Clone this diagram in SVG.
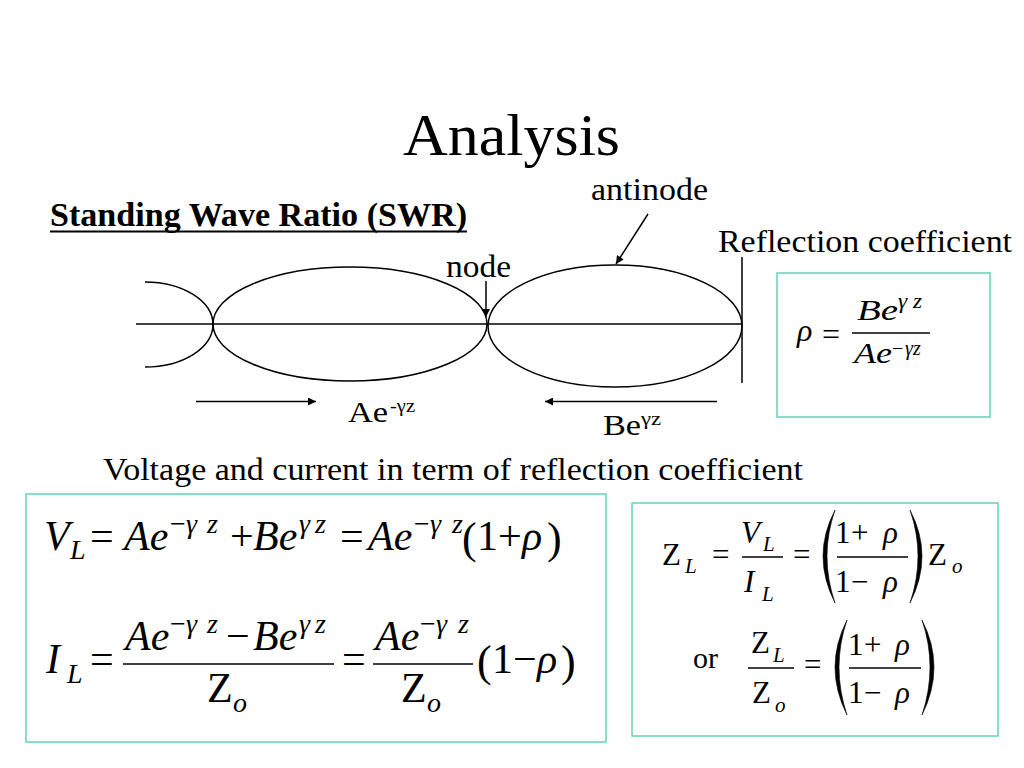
<svg xmlns="http://www.w3.org/2000/svg" width="1024" height="768" viewBox="0 0 1024 768">
<style>
text{font-family:"Liberation Serif","Times New Roman",serif;fill:#000}
.i{font-style:italic}
.ln{stroke:#000;stroke-width:1.5;fill:none}
.fr{stroke:#000;stroke-width:1.6}
.box{fill:#fff;stroke:#66d2b8;stroke-width:1.5}
.par{fill:#000;stroke:#000;stroke-width:0.6}
.b2{font-size:42px}
.s2{font-size:28px}
.b3{font-size:31px}
.s3{font-size:21px}
</style>
<defs>
<marker id="ah" viewBox="0 0 10 10" refX="10" refY="5" markerWidth="10" markerHeight="8" markerUnits="userSpaceOnUse" orient="auto">
<path d="M0,0 L10,5 L0,10 z" fill="#000"/>
</marker>
</defs>
<rect width="1024" height="768" fill="#fff"/>

<g id="title">
<text x="403" y="155" font-size="60" textLength="217" lengthAdjust="spacingAndGlyphs">Analysis</text>
</g>
<g id="heading">
<text x="50" y="226" font-size="33" font-weight="bold" textLength="417" lengthAdjust="spacingAndGlyphs">Standing Wave Ratio (SWR)</text>
<line x1="50" y1="231.5" x2="467" y2="231.5" stroke="#000" stroke-width="2"/>
</g>

<g id="wave">
<line class="ln" x1="136" y1="324" x2="742" y2="324"/>
<line class="ln" x1="742" y1="257" x2="742" y2="383"/>
<path class="ln" d="M145,282 A68,42.5 0 0 1 145,367"/>
<ellipse class="ln" cx="350" cy="324" rx="137" ry="57"/>
<ellipse class="ln" cx="615" cy="326" rx="127" ry="61"/>
</g>

<g id="labels">
<text x="591" y="200" font-size="32" textLength="117" lengthAdjust="spacingAndGlyphs">antinode</text>
<text x="446" y="277" font-size="32" textLength="65" lengthAdjust="spacingAndGlyphs">node</text>
<text x="718" y="252" font-size="31" textLength="294" lengthAdjust="spacingAndGlyphs">Reflection coefficient</text>
<text x="348" y="422" font-size="30" textLength="40" lengthAdjust="spacingAndGlyphs">Ae</text>
<text x="390" y="412" font-size="19" textLength="25" lengthAdjust="spacingAndGlyphs">-γz</text>
<text x="603" y="435" font-size="30" textLength="38" lengthAdjust="spacingAndGlyphs">Be</text>
<text x="641" y="425" font-size="19" textLength="20" lengthAdjust="spacingAndGlyphs">γz</text>
<text x="103" y="480" font-size="31" textLength="700" lengthAdjust="spacingAndGlyphs">Voltage and current in term of reflection coefficient</text>
</g>

<g id="connectors">
<line class="ln" x1="648" y1="214" x2="616" y2="264" marker-end="url(#ah)"/>
<line class="ln" x1="486" y1="281" x2="486" y2="317" marker-end="url(#ah)"/>
<line class="ln" x1="196" y1="401.5" x2="316" y2="401.5" marker-end="url(#ah)"/>
<line class="ln" x1="717" y1="401.5" x2="545" y2="401.5" marker-end="url(#ah)"/>
</g>

<g id="rho-box">
<rect class="box" x="777" y="273" width="213" height="144"/>
<text class="i" x="797" y="341" font-size="32">ρ</text>
<text x="822" y="345" font-size="32">=</text>
<line class="fr" x1="852" y1="333" x2="930" y2="333"/>
<text class="i" x="857" y="320" font-size="30" textLength="41" lengthAdjust="spacingAndGlyphs">Be</text>
<text class="i" x="898" y="308" font-size="20" textLength="24" lengthAdjust="spacingAndGlyphs">γ z</text>
<text class="i" x="854" y="363" font-size="30" textLength="38" lengthAdjust="spacingAndGlyphs">Ae</text>
<text x="892" y="355" font-size="20"><tspan>−</tspan><tspan class="i" x="905">γz</tspan></text>
</g>

<g id="vi-box">
<rect class="box" x="26" y="494" width="580" height="248"/>
<text class="b2 i" x="44" y="550">V</text>
<text class="s2 i" x="70" y="559">L</text>
<text class="b2" x="90" y="550">=</text>
<text class="b2 i" x="124" y="550">Ae</text>
<text class="s2" x="170" y="533">−</text><text class="s2 i" x="186" y="533">γ</text><text class="s2 i" x="207" y="533">z</text>
<text class="b2" x="230" y="550">+</text>
<text class="b2 i" x="253" y="550">Be</text>
<text class="s2 i" x="299" y="533">γ</text><text class="s2 i" x="315" y="533">z</text>
<text class="b2" x="340" y="550">=</text>
<text class="b2 i" x="368" y="550">Ae</text>
<text class="s2" x="414" y="533">−</text><text class="s2 i" x="430" y="533">γ</text><text class="s2 i" x="452" y="533">z</text>
<text x="462" y="553" font-size="44">(</text>
<text class="b2" x="477" y="550">1</text>
<text class="b2" x="498" y="550">+</text>
<text class="b2 i" x="522" y="550">ρ</text>
<text x="547" y="553" font-size="44">)</text>

<text class="b2 i" x="46" y="673">I</text>
<text class="s2 i" x="67" y="683">L</text>
<text class="b2" x="90" y="673">=</text>
<line class="fr" x1="123" y1="664" x2="334" y2="664"/>
<text class="b2 i" x="125" y="650">Ae</text>
<text class="s2" x="170" y="633">−</text><text class="s2 i" x="186" y="633">γ</text><text class="s2 i" x="207" y="633">z</text>
<text class="b2" x="226" y="650">−</text>
<text class="b2 i" x="253" y="650">Be</text>
<text class="s2 i" x="299" y="633">γ</text><text class="s2 i" x="315" y="633">z</text>
<text class="b2" x="207" y="702">Z</text>
<text class="s2 i" x="233" y="712">o</text>
<text class="b2" x="342" y="673">=</text>
<line class="fr" x1="373" y1="664" x2="473" y2="664"/>
<text class="b2 i" x="375" y="650">Ae</text>
<text class="s2" x="420" y="633">−</text><text class="s2 i" x="436" y="633">γ</text><text class="s2 i" x="458" y="633">z</text>
<text class="b2" x="401" y="702">Z</text>
<text class="s2 i" x="427" y="712">o</text>
<text x="477" y="676" font-size="44">(</text>
<text class="b2" x="492" y="673">1</text>
<text class="b2" x="513" y="673">−</text>
<text class="b2 i" x="537" y="673">ρ</text>
<text x="561" y="676" font-size="44">)</text>
</g>

<g id="z-box">
<rect class="box" x="632" y="503" width="366" height="233"/>
<text class="b3" x="662" y="565">Z</text>
<text class="s3 i" x="685" y="573">L</text>
<text class="b3" x="712" y="565">=</text>
<text class="b3 i" x="741" y="543">V</text>
<text class="s3 i" x="763" y="551">L</text>
<line class="fr" x1="742" y1="557" x2="783" y2="557"/>
<text class="b3 i" x="744" y="592">I</text>
<text class="s3 i" x="762" y="601">L</text>
<text class="b3" x="793" y="565">=</text>
<path class="par" d="M835,510 Q811,556 835,603 Q819,556 835,510 z"/>
<text class="b3" x="835" y="543">1</text>
<text class="b3" x="851" y="543">+</text>
<text class="b3 i" x="883" y="543">ρ</text>
<line class="fr" x1="837" y1="557" x2="908" y2="557"/>
<text class="b3" x="835" y="592">1</text>
<text class="b3" x="851" y="592">−</text>
<text class="b3 i" x="883" y="592">ρ</text>
<path class="par" d="M910,510 Q934,556 910,603 Q926,556 910,510 z"/>
<text class="b3" x="928" y="565">Z</text>
<text class="s3 i" x="952" y="573">o</text>

<text x="693" y="668" font-size="30">or</text>
<text class="b3" x="751" y="653">Z</text>
<text class="s3 i" x="773" y="662">L</text>
<line class="fr" x1="748" y1="668" x2="794" y2="668"/>
<text class="b3" x="752" y="703">Z</text>
<text class="s3 i" x="775" y="712">o</text>
<text class="b3" x="804" y="675">=</text>
<path class="par" d="M847,620 Q823,667 847,715 Q831,667 847,620 z"/>
<text class="b3" x="848" y="655">1</text>
<text class="b3" x="864" y="655">+</text>
<text class="b3 i" x="895" y="655">ρ</text>
<line class="fr" x1="849" y1="668" x2="921" y2="668"/>
<text class="b3" x="848" y="703">1</text>
<text class="b3" x="864" y="703">−</text>
<text class="b3 i" x="895" y="703">ρ</text>
<path class="par" d="M922,620 Q946,667 922,715 Q938,667 922,620 z"/>
</g>
</svg>
